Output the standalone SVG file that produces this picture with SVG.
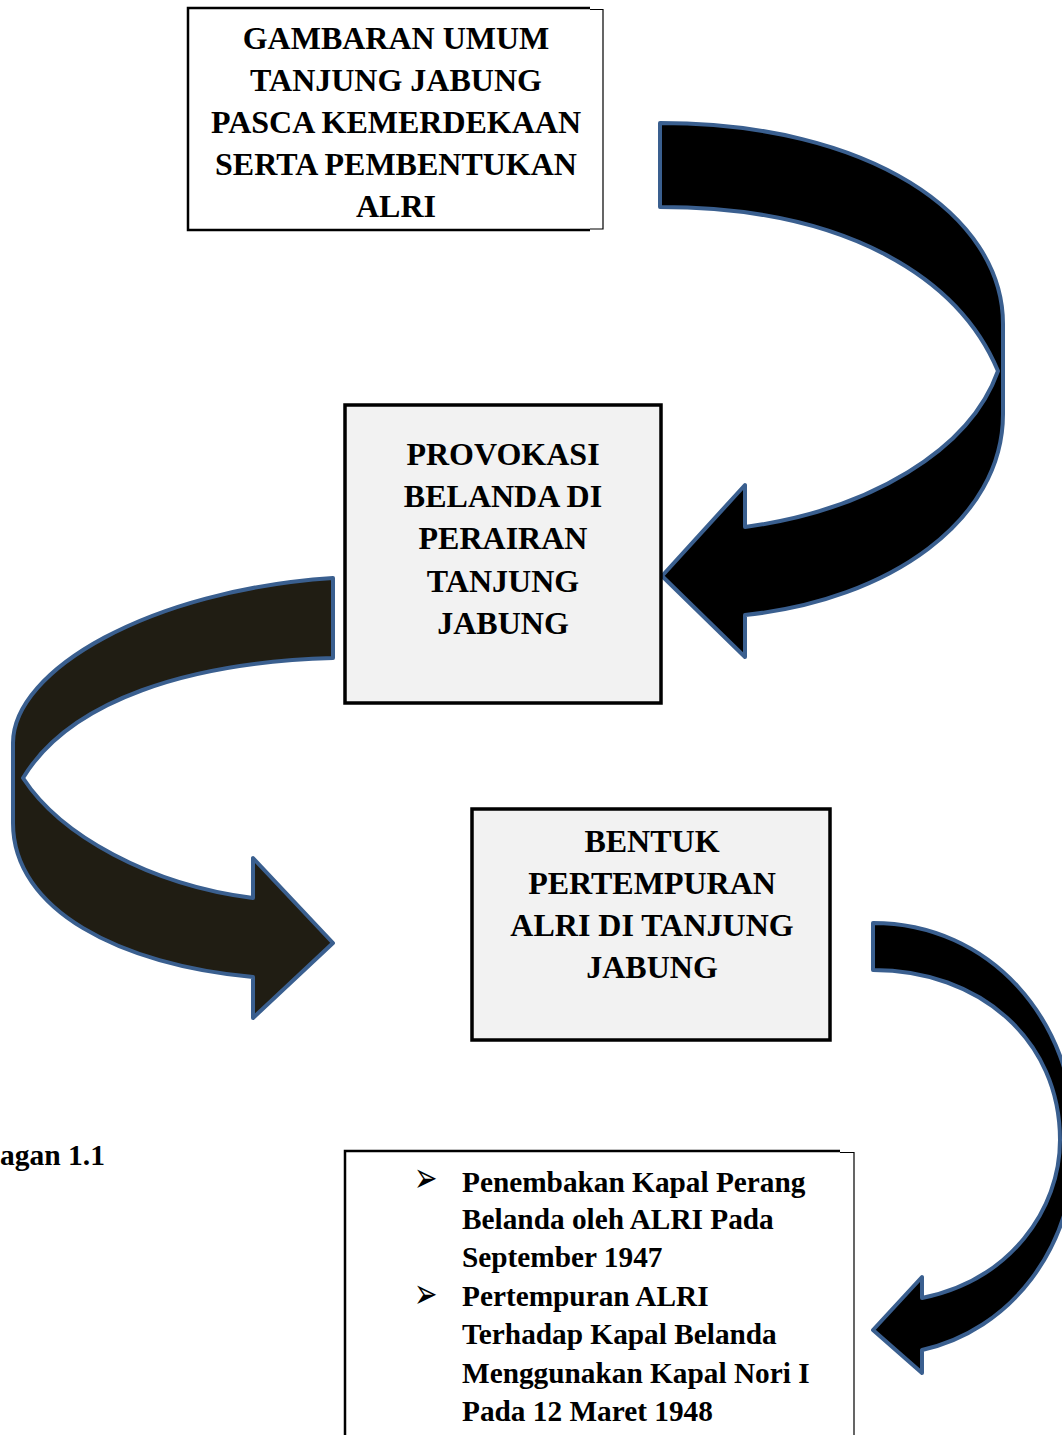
<svg xmlns="http://www.w3.org/2000/svg" width="1062" height="1435" viewBox="0 0 1062 1435">
<style>
.t{font-family:"Liberation Serif","Times New Roman",serif;font-weight:bold;fill:#000}
.c{font-size:32px;text-anchor:middle}
.b{font-size:29.3px}
.bul{font-family:"DejaVu Sans",sans-serif;font-size:28px;fill:#000}
.arr{stroke:#3a5f8f;stroke-width:4;stroke-linejoin:round}
.thick{fill:none;stroke:#000;stroke-width:2.5}
.thin{fill:none;stroke:#000;stroke-width:1.2}
.gbox{fill:#f2f2f2;stroke:#000;stroke-width:3.5}
</style>
<rect width="1062" height="1435" fill="#fff"/>
<g id="connectors">
<path class="arr" fill="#000" d="M660,123 C870,123 1003,215 1003,324 L1003,414 C1003,520 890,600 745,615 L745,657 L662,576 L745,485 L745,527 C870,510 970,450 998,371 C960,280 850,207 660,207 Z"/>
<path class="arr" fill="#201d13" d="M333,578 C150,590 13,670 13,743 L13,823 C13,910 120,965 253,977 L253,1018 L333,943 L253,858 L253,898 C150,885 60,835 23,778 C70,700 190,662 333,658 Z"/>
<path class="arr" fill="#000" d="M873,923 C990,923 1075,1020 1075,1140 C1075,1250 1010,1330 922,1350 L922,1373 L873,1330 L922,1277 L922,1298 C1010,1280 1060,1210 1060,1140 C1060,1040 980,970 873,970 Z"/>
</g>
<g id="node1">
<rect x="188" y="8" width="415" height="222" fill="#fff"/>
<path class="thick" d="M590,8 L188,8 L188,230 L590,230"/>
<path class="thin" d="M590,9.5 L603,9.5 L603,229 L590,229"/>
<text class="t c" x="396" y="49">GAMBARAN UMUM</text>
<text class="t c" x="396" y="91">TANJUNG JABUNG</text>
<text class="t c" x="396" y="133">PASCA KEMERDEKAAN</text>
<text class="t c" x="396" y="175">SERTA PEMBENTUKAN</text>
<text class="t c" x="396" y="217">ALRI</text>
</g>
<g id="node2">
<rect class="gbox" x="345" y="405" width="316" height="298"/>
<text class="t c" x="503" y="465">PROVOKASI</text>
<text class="t c" x="503" y="507">BELANDA DI</text>
<text class="t c" x="503" y="549">PERAIRAN</text>
<text class="t c" x="503" y="592">TANJUNG</text>
<text class="t c" x="503" y="634">JABUNG</text>
</g>
<g id="node3">
<rect class="gbox" x="472" y="809" width="358" height="231"/>
<text class="t c" x="652" y="852">BENTUK</text>
<text class="t c" x="652" y="894">PERTEMPURAN</text>
<text class="t c" x="652" y="936">ALRI DI TANJUNG</text>
<text class="t c" x="652" y="978">JABUNG</text>
</g>
<g id="node4">
<rect x="345" y="1151" width="509" height="290" fill="#fff"/>
<path class="thick" d="M840,1151 L345,1151 L345,1440"/>
<path class="thin" d="M840,1152.5 L854,1152.5 L854,1440"/>
<text class="bul" transform="translate(414,1181) scale(1,1.5)" x="0" y="7">➢</text>
<text class="bul" transform="translate(414,1297) scale(1,1.5)" x="0" y="7">➢</text>
<text class="t b" x="462" y="1192">Penembakan Kapal Perang</text>
<text class="t b" x="462" y="1229">Belanda oleh ALRI Pada</text>
<text class="t b" x="462" y="1267">September 1947</text>
<text class="t b" x="462" y="1306">Pertempuran ALRI</text>
<text class="t b" x="462" y="1344">Terhadap Kapal Belanda</text>
<text class="t b" x="462" y="1383">Menggunakan Kapal Nori I</text>
<text class="t b" x="462" y="1421">Pada 12 Maret 1948</text>
</g>
<g id="caption">
<text class="t" x="0" y="1165" font-size="29.5px">agan 1.1</text>
</g>
</svg>
